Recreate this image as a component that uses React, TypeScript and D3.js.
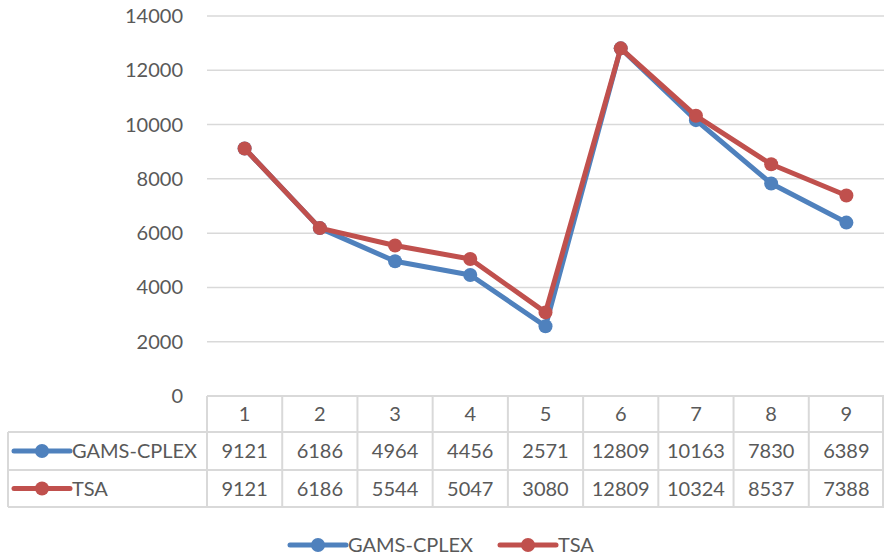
import { useEffect, useRef } from 'react';
import * as d3 from 'd3';

const categories = ['1', '2', '3', '4', '5', '6', '7', '8', '9'];
const gamsCplex = [9121, 6186, 4964, 4456, 2571, 12809, 10163, 7830, 6389];
const tsa = [9121, 6186, 5544, 5047, 3080, 12809, 10324, 8537, 7388];
const yTicks = [0, 2000, 4000, 6000, 8000, 10000, 12000, 14000];

const seriesList = [
  { name: 'GAMS-CPLEX', values: gamsCplex, color: '#4F81BD' },
  { name: 'TSA', values: tsa, color: '#C0504D' },
];

export default function App() {
  const svgRef = useRef<SVGSVGElement>(null);

  useEffect(() => {
    const W = 884, H = 556;
    const font = 'Lato, "Open Sans", sans-serif';
    const textColor = '#595959';
    const gridColor = '#D9D9D9';

    const svg = d3.select(svgRef.current);
    svg.selectAll('*').remove();
    svg.attr('width', W).attr('height', H);

    const plotLeft = 207, plotRight = 884;
    const plotTop = 16, plotBottom = 396;
    const tableLeft = 8;
    const rowLines = [396, 432, 470, 507];

    const x = d3.scaleBand<string>().domain(categories).range([plotLeft, plotRight]);
    const y = d3.scaleLinear().domain([0, 14000]).range([plotBottom, plotTop]);

    // gridlines
    svg.append('g')
      .selectAll('line')
      .data(yTicks.filter(d => d > 0))
      .enter()
      .append('line')
      .attr('x1', plotLeft)
      .attr('x2', plotRight)
      .attr('y1', d => y(d))
      .attr('y2', d => y(d))
      .attr('stroke', gridColor)
      .attr('stroke-width', 1.5);

    // y labels
    svg.append('g')
      .selectAll('text')
      .data(yTicks)
      .enter()
      .append('text')
      .attr('x', 183)
      .attr('y', d => y(d))
      .attr('dy', '0.35em')
      .attr('text-anchor', 'end')
      .style('font-family', font)
      .style('font-size', '20px')
      .style('fill', textColor)
      .text(d => d);

    // data table grid
    const table = svg.append('g').attr('stroke', gridColor).attr('stroke-width', 2);
    table.append('line')
      .attr('x1', plotLeft).attr('x2', plotRight)
      .attr('y1', rowLines[0]).attr('y2', rowLines[0]);
    rowLines.slice(1).forEach(ly => {
      table.append('line')
        .attr('x1', tableLeft).attr('x2', plotRight)
        .attr('y1', ly).attr('y2', ly);
    });
    table.append('line')
      .attr('x1', tableLeft).attr('x2', tableLeft)
      .attr('y1', rowLines[1]).attr('y2', rowLines[3]);
    categories.forEach(c => {
      table.append('line')
        .attr('x1', x(c)!).attr('x2', x(c)!)
        .attr('y1', rowLines[0]).attr('y2', rowLines[3]);
    });
    table.append('line')
      .attr('x1', plotRight - 1).attr('x2', plotRight - 1)
      .attr('y1', rowLines[0]).attr('y2', rowLines[3]);

    const cx = (c: string) => x(c)! + x.bandwidth() / 2;

    // category header
    svg.append('g')
      .selectAll('text')
      .data(categories)
      .enter()
      .append('text')
      .attr('x', d => cx(d))
      .attr('y', (rowLines[0] + rowLines[1]) / 2)
      .attr('dy', '0.35em')
      .attr('text-anchor', 'middle')
      .style('font-family', font)
      .style('font-size', '20px')
      .style('fill', textColor)
      .text(d => d);

    const drawKey = (g: any, x0: number, cy: number, color: string) => {
      g.append('line')
        .attr('x1', x0).attr('x2', x0 + 56)
        .attr('y1', cy).attr('y2', cy)
        .attr('stroke', color)
        .attr('stroke-width', 5)
        .attr('stroke-linecap', 'round');
      g.append('circle')
        .attr('cx', x0 + 28).attr('cy', cy)
        .attr('r', 7)
        .attr('fill', color);
    };

    // table rows
    seriesList.forEach((s, i) => {
      const cy = (rowLines[i + 1] + rowLines[i + 2]) / 2;
      const g = svg.append('g');
      drawKey(g, 14, cy, s.color);
      g.append('text')
        .attr('x', 72)
        .attr('y', cy)
        .attr('dy', '0.35em')
        .style('font-family', font)
        .style('font-size', '20px')
        .style('fill', textColor)
        .text(s.name);
      g.selectAll('text.val')
        .data(s.values)
        .enter()
        .append('text')
        .attr('class', 'val')
        .attr('x', (_d: number, j: number) => cx(categories[j]))
        .attr('y', cy)
        .attr('dy', '0.35em')
        .attr('text-anchor', 'middle')
        .style('font-family', font)
        .style('font-size', '20px')
        .style('fill', textColor)
        .text((d: number) => d);
    });

    // lines
    const line = d3.line<number>()
      .x((_d, j) => cx(categories[j]))
      .y(d => y(d));

    seriesList.forEach(s => {
      svg.append('path')
        .datum(s.values)
        .attr('fill', 'none')
        .attr('stroke', s.color)
        .attr('stroke-width', 5)
        .attr('stroke-linejoin', 'round')
        .attr('stroke-linecap', 'round')
        .attr('d', line);
      svg.append('g')
        .selectAll('circle')
        .data(s.values)
        .enter()
        .append('circle')
        .attr('cx', (_d, j) => cx(categories[j]))
        .attr('cy', d => y(d))
        .attr('r', 7)
        .attr('fill', s.color);
    });

    // legend
    const legendY = 545;
    const legendItems = [
      { x0: 290, s: seriesList[0] },
      { x0: 500, s: seriesList[1] },
    ];
    legendItems.forEach(({ x0, s }) => {
      const g = svg.append('g');
      drawKey(g, x0, legendY, s.color);
      g.append('text')
        .attr('x', x0 + 58)
        .attr('y', legendY)
        .attr('dy', '0.35em')
        .style('font-family', font)
        .style('font-size', '20px')
        .style('fill', textColor)
        .text(s.name);
    });
  }, []);

  return (
    <div style={{ position: 'fixed', left: 0, top: 0, background: '#fff' }}>
      <svg ref={svgRef} style={{ display: 'block' }}></svg>
    </div>
  );
}
